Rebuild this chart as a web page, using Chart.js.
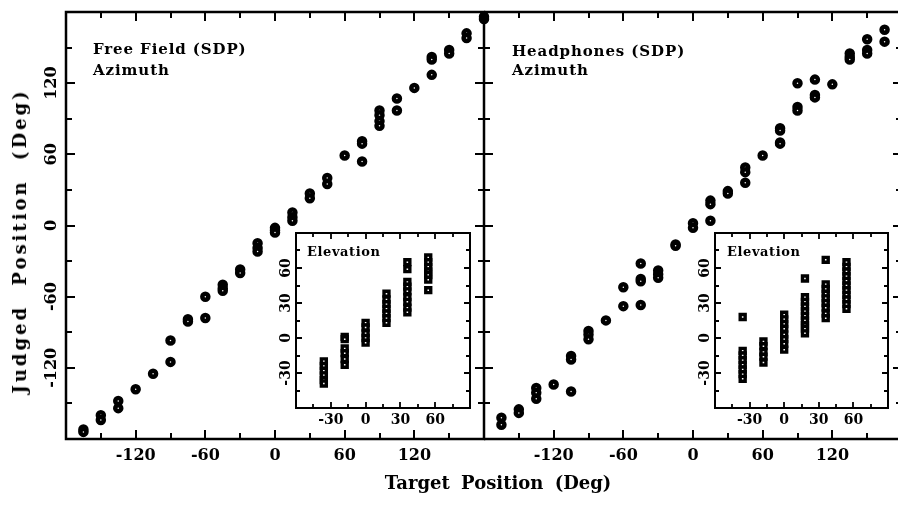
<!DOCTYPE html>
<html>
<head>
<meta charset="utf-8">
<title>Azimuth / Elevation judgements</title>
<script src="https://cdn.jsdelivr.net/npm/chart.js@4.4.1/dist/chart.umd.min.js"></script>
<style>
  html, body { margin: 0; padding: 0; background: #fff; overflow: hidden; width: 898px; height: 506px; }
  #fig {
    width: 898px; height: 506px; overflow: hidden; position: relative;
    font-family: "DejaVu Serif", serif; font-weight: bold; color: #000;
  }
  canvas { position: absolute; }
  .txt { position: absolute; white-space: pre; line-height: 1; }
  .panel { font-size: 15px; letter-spacing: 0.9px; }
  .inset { font-size: 13px; letter-spacing: 0.6px; }
</style>
</head>
<body>
<div id="fig">
<canvas id="ffAz" width="490" height="506" style="left:0;top:0"></canvas>
<canvas id="hpAz" width="430" height="506" style="left:478px;top:0"></canvas>
<canvas id="ffEl" width="210" height="210" style="left:268px;top:225px"></canvas>
<canvas id="hpEl" width="210" height="210" style="left:687px;top:225px"></canvas>

<div class="txt panel" style="left:93px;top:42px">Free Field (SDP)</div>
<div class="txt panel" style="left:93px;top:63px">Azimuth</div>
<div class="txt panel" style="left:512px;top:44px">Headphones (SDP)</div>
<div class="txt panel" style="left:512px;top:63px">Azimuth</div>
<div class="txt inset" style="left:307px;top:245px">Elevation</div>
<div class="txt inset" style="left:727px;top:245px">Elevation</div>
<div class="txt" id="xTitle" style="left:498px;top:474px;font-size:18px;word-spacing:5px;transform:translateX(-50%)">Target Position (Deg)</div>
<div class="txt" id="yTitle" style="left:20px;top:241px;font-size:18px;letter-spacing:3px;word-spacing:10px;transform:translate(-50%,-50%) rotate(-90deg)">Judged Position (Deg)</div>
</div>

<script>
// ---- azimuth: target positions and judged positions per target (deg) ----
const azTargets = [-165, -150, -135, -120, -105, -90, -75, -60, -45, -30, -15, 0,
                   15, 30, 45, 60, 75, 90, 105, 120, 135, 150, 165, 180];

const ffAzJudged = [
  [-172, -174], [-160, -164], [-148, -154], [-138], [-125], [-97, -115],
  [-79, -81], [-60, -78], [-50, -53, -55], [-37, -40], [-15, -19, -22], [-2, -4, -6],
  [11, 7, 4], [27, 23], [40, 35], [59], [71, 69, 54], [97, 93, 88, 84],
  [107, 97], [116], [142, 140, 127], [148, 145], [162, 158], [176, 174]
];

const hpAzJudged = [
  [-162, -168], [-155, -158], [-137, -141, -146], [-134], [-110, -113, -140], [-89, -92, -96],
  [-80], [-52, -68], [-32, -45, -47, -67], [-38, -41, -44], [-16, -17], [2, -2],
  [21, 18, 4], [29, 27], [49, 45, 36], [59], [82, 80, 70, 69], [120, 100, 97],
  [123, 110, 108], [119], [145, 142, 140], [157, 148, 145], [165, 155], []
];

// ---- elevation insets ----
const elTargets = [-36, -18, 0, 18, 36, 54];

const ffElJudged = [
  [-20, -24, -28, -32, -36, -39],
  [1, -1, -9, -13, -18, -23],
  [13, 9, 4, 0, -4],
  [38, 33, 29, 25, 21, 17, 13],
  [65, 59, 48, 44, 40, 35, 31, 26, 22],
  [69, 65, 61, 57, 54, 50, 41]
];

const hpElJudged = [
  [18, -11, -15, -19, -23, -27, -31, -35],
  [-3, -7, -12, -16, -21],
  [20, 16, 12, 8, 3, -1, -5, -10],
  [51, 35, 31, 27, 23, 19, 15, 11, 8, 4],
  [67, 46, 42, 38, 34, 30, 26, 21, 17],
  [65, 61, 57, 53, 49, 45, 41, 37, 33, 29, 25]
];

// tick labels
const azTickLabels = [-120, -60, 0, 60, 120];
const elTickLabels = [-30, 0, 30, 60];

// flatten target + judged lists into scatter points
function toPoints(targets, judged) {
  const pts = [];
  targets.forEach((t, i) => judged[i].forEach(j => pts.push({ x: t, y: j })));
  return pts;
}

// frame, inward ticks (both axes, all sides) and tick labels
const frameTicks = {
  id: 'frameTicks',
  beforeDatasetsDraw(chart, args, o) {
    if (!o.fill) return;
    const a = chart.chartArea;
    chart.ctx.save();
    chart.ctx.fillStyle = '#fff';
    chart.ctx.fillRect(a.left, a.top, a.width, a.height);
    chart.ctx.restore();
  },
  afterDatasetsDraw(chart, args, o) {
    const ctx = chart.ctx, a = chart.chartArea;
    const xs = chart.scales.x, ys = chart.scales.y;
    ctx.save();
    ctx.strokeStyle = '#000';
    ctx.lineWidth = o.tickWidth;
    ctx.beginPath();
    for (let v = xs.min; v <= xs.max; v += o.step) {
      const px = Math.round(xs.getPixelForValue(v));
      const len = v % o.major === 0 ? o.majorLen : o.minorLen;
      ctx.moveTo(px, a.bottom); ctx.lineTo(px, a.bottom - len);
      ctx.moveTo(px, a.top); ctx.lineTo(px, a.top + len);
    }
    for (let v = ys.min; v <= ys.max; v += o.step) {
      const py = Math.round(ys.getPixelForValue(v));
      const len = v % o.major === 0 ? o.majorLen : o.minorLen;
      ctx.moveTo(a.left, py); ctx.lineTo(a.left + len, py);
      ctx.moveTo(a.right, py); ctx.lineTo(a.right - len, py);
    }
    ctx.stroke();

    // frame; the right panel leaves its left edge to the left panel
    ctx.lineWidth = o.frameWidth;
    ctx.beginPath();
    ctx.moveTo(a.left, a.top);
    ctx.lineTo(a.right, a.top);
    ctx.lineTo(a.right, a.bottom);
    ctx.lineTo(a.left, a.bottom);
    if (!o.openLeft) ctx.closePath();
    ctx.stroke();

    ctx.fillStyle = '#000';
    ctx.font = o.font;
    ctx.textAlign = 'center';
    ctx.textBaseline = 'middle';
    o.xLabels.forEach(v => {
      ctx.fillText(String(v), xs.getPixelForValue(v), a.bottom + o.xGap);
    });
    (o.yLabels || []).forEach(v => {
      ctx.save();
      ctx.translate(a.left - o.yGap, ys.getPixelForValue(v));
      ctx.rotate(-Math.PI / 2);
      ctx.fillText(String(v), 0, 0);
      ctx.restore();
    });
    ctx.restore();
  }
};

function makeChart(id, points, cfg) {
  return new Chart(document.getElementById(id), {
    type: 'scatter',
    data: {
      datasets: [{
        data: points,
        pointStyle: cfg.pointStyle,
        pointRadius: cfg.radius,
        pointBorderWidth: cfg.border,
        pointBorderColor: '#000',
        pointBackgroundColor: '#fff',
        clip: false
      }]
    },
    options: {
      responsive: false,
      devicePixelRatio: 1,
      animation: false,
      events: [],
      // fixed plot boxes: no extra room for the point size
      layout: { padding: cfg.padding, autoPadding: false },
      scales: {
        x: { type: 'linear', display: false, min: cfg.min, max: cfg.max },
        y: { type: 'linear', display: false, min: cfg.min, max: cfg.max }
      },
      plugins: {
        legend: { display: false },
        tooltip: { enabled: false },
        frameTicks: cfg.frame
      }
    },
    plugins: [frameTicks]
  });
}

const mainFrame = {
  step: 30, major: 60, majorLen: 9, minorLen: 6, tickWidth: 2, frameWidth: 2.5,
  font: 'bold 16px "DejaVu Serif"', xGap: 17, yGap: 14
};
const insetFrame = {
  step: 15, major: 30, majorLen: 6, minorLen: 4, tickWidth: 1.8, frameWidth: 2,
  font: 'bold 14px "DejaVu Serif"', xGap: 12, yGap: 10, fill: true,
  xLabels: elTickLabels, yLabels: elTickLabels
};

// Free field azimuth (left panel)
makeChart('ffAz', toPoints(azTargets, ffAzJudged), {
  pointStyle: 'circle', radius: 3, border: 4.5, min: -180, max: 180,
  padding: { left: 66, top: 12, right: 6, bottom: 67 },
  frame: Object.assign({}, mainFrame, { xLabels: azTickLabels, yLabels: azTickLabels })
});

// Headphones azimuth (right panel, shares the left panel's y scale)
makeChart('hpAz', toPoints(azTargets, hpAzJudged), {
  pointStyle: 'circle', radius: 3, border: 4.5, min: -180, max: 180,
  padding: { left: 6, top: 12, right: 6, bottom: 67 },
  frame: Object.assign({}, mainFrame, { xLabels: azTickLabels, yLabels: [], openLeft: true })
});

// Elevation insets
makeChart('ffEl', toPoints(elTargets, ffElJudged), {
  pointStyle: 'rect', radius: 3.5, border: 3.4, min: -60, max: 90,
  padding: { left: 28, top: 8, right: 8, bottom: 27 },
  frame: insetFrame
});
makeChart('hpEl', toPoints(elTargets, hpElJudged), {
  pointStyle: 'rect', radius: 3.5, border: 3.4, min: -60, max: 90,
  padding: { left: 28, top: 8, right: 9, bottom: 27 },
  frame: insetFrame
});
</script>
</body>
</html>
